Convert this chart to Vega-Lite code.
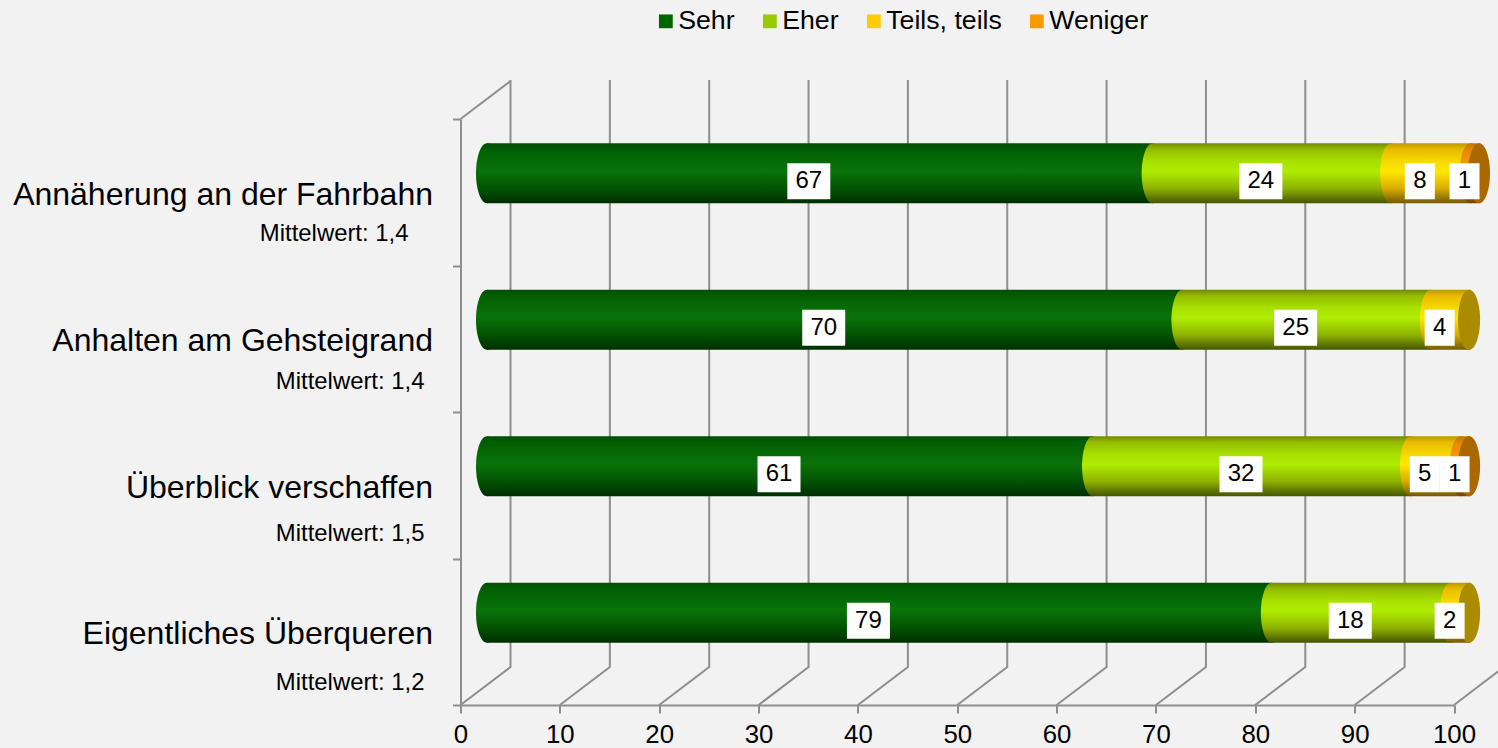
{
"$schema":"https://vega.github.io/schema/vega-lite/v6.json",
"autosize":{"type":"none"},
"padding":{"left":460.5,"top":119,"right":44,"bottom":43},
"width":993.5,"height":586,
"background":"#f2f2f2",
"config":{"view":{"stroke":null},"font":"Liberation Sans","text":{"font":"Liberation Sans"}},
"resolve":{"axis":{"x":"independent","y":"independent"}},
"datasets":{
"ticks":[{"v":0},{"v":10},{"v":20},{"v":30},{"v":40},{"v":50},{"v":60},{"v":70},{"v":80},{"v":90},{"v":100}],
"corner":[{"v":0}],
"means":[
{"item":"Annäherung an der Fahrbahn","mean":"Mittelwert: 1,4"},
{"item":"Anhalten am Gehsteigrand","mean":"Mittelwert: 1,4"},
{"item":"Überblick verschaffen","mean":"Mittelwert: 1,5"},
{"item":"Eigentliches Überqueren","mean":"Mittelwert: 1,2"}]
},
"data":{"values":[
{"item":"Annäherung an der Fahrbahn","series":"Sehr","ord":1,"value":67},
{"item":"Annäherung an der Fahrbahn","series":"Eher","ord":2,"value":24},
{"item":"Annäherung an der Fahrbahn","series":"Teils, teils","ord":3,"value":8},
{"item":"Annäherung an der Fahrbahn","series":"Weniger","ord":4,"value":1},
{"item":"Anhalten am Gehsteigrand","series":"Sehr","ord":1,"value":70},
{"item":"Anhalten am Gehsteigrand","series":"Eher","ord":2,"value":25},
{"item":"Anhalten am Gehsteigrand","series":"Teils, teils","ord":3,"value":4},
{"item":"Überblick verschaffen","series":"Sehr","ord":1,"value":61},
{"item":"Überblick verschaffen","series":"Eher","ord":2,"value":32},
{"item":"Überblick verschaffen","series":"Teils, teils","ord":3,"value":5},
{"item":"Überblick verschaffen","series":"Weniger","ord":4,"value":1},
{"item":"Eigentliches Überqueren","series":"Sehr","ord":1,"value":79},
{"item":"Eigentliches Überqueren","series":"Eher","ord":2,"value":18},
{"item":"Eigentliches Überqueren","series":"Teils, teils","ord":3,"value":2}
]},
"transform":[
{"stack":"value","groupby":["item"],"sort":[{"field":"ord","order":"ascending"}],"as":["x0","x1"]},
{"joinaggregate":[{"op":"max","field":"x1","as":"end"}],"groupby":["item"]},
{"calculate":"(datum.x0+datum.x1)/2","as":"mid"}
],
"layer":[
{"data":{"name":"ticks"},"mark":{"type":"point","shape":"M0,0 L1,-0.76 L1,-12.5","size":10000,"fill":null,"filled":false,"stroke":"#8e8e8e","strokeWidth":2,"opacity":1,"yOffset":293},
 "encoding":{"x":{"field":"v","type":"quantitative","scale":{"domain":[0,100],"nice":false,"zero":false},"title":null,
  "axis":{"values":[0,10,20,30,40,50,60,70,80,90,100],"grid":false,"domainColor":"#8e8e8e","domainWidth":2,"tickColor":"#8e8e8e","tickWidth":2,"tickSize":8,"labelFontSize":25.8,"labelColor":"#000000","labelPadding":9,"labelFont":"Liberation Sans","labelOverlap":false,"labelFlush":false}}}},
{"data":{"name":"corner"},"mark":{"type":"point","shape":"M0,0 L1,-0.76","size":10000,"fill":null,"filled":false,"stroke":"#8e8e8e","strokeWidth":2,"opacity":1,"yOffset":-293},
 "encoding":{"x":{"field":"v","type":"quantitative","axis":null}}},

{"transform":[{"filter":"datum.series=='Sehr'"}],
 "mark":{"type":"bar","height":60,"xOffset":26.5,"x2Offset":26.5,"yOffset":-19,"fill":{"gradient":"linear","x1":0,"y1":0,"x2":0,"y2":1,"stops":[{"offset":0,"color":"#004f00"},{"offset":0.12,"color":"#016001"},{"offset":0.45,"color":"#0a730a"},{"offset":0.75,"color":"#025302"},{"offset":1,"color":"#002e00"}]}},
 "encoding":{"x":{"field":"x0","type":"quantitative","axis":null},"x2":{"field":"x1"},
  "y":{"field":"item","type":"nominal","sort":["Annäherung an der Fahrbahn","Anhalten am Gehsteigrand","Überblick verschaffen","Eigentliches Überqueren"],"scale":{"domain":["Annäherung an der Fahrbahn","Anhalten am Gehsteigrand","Überblick verschaffen","Eigentliches Überqueren"],"paddingInner":0,"paddingOuter":0},"title":null,
  "axis":{"tickBand":"extent","domainColor":"#8e8e8e","domainWidth":2,"tickColor":"#8e8e8e","tickWidth":2,"tickSize":8,"labelFontSize":32,"labelColor":"#000000","labelPadding":20,"labelOffset":2,"labelLimit":600,"labelFont":"Liberation Sans","grid":false}}}},
{"transform":[{"filter":"datum.series=='Sehr'"}],
 "mark":{"type":"point","filled":true,"opacity":1,"size":3600,"strokeWidth":0,"xOffset":26.5,"yOffset":-19,"shape":"M0,-1 C.2026,-1 .367,-.5523 .367,0 C.367,.5523 .2026,1 0,1 C-.2026,1 -.367,.5523 -.367,0 C-.367,-.5523 -.2026,-1 0,-1 Z","fill":{"gradient":"linear","x1":0,"y1":0,"x2":0,"y2":1,"stops":[{"offset":0,"color":"#004f00"},{"offset":0.12,"color":"#016001"},{"offset":0.45,"color":"#0a730a"},{"offset":0.75,"color":"#025302"},{"offset":1,"color":"#002e00"}]}},
 "encoding":{"x":{"field":"x0","type":"quantitative","axis":null},"y":{"field":"item","type":"nominal","axis":null}}},

{"transform":[{"filter":"datum.series=='Eher'"}],
 "mark":{"type":"bar","height":60,"xOffset":26.5,"x2Offset":26.5,"yOffset":-19,"fill":{"gradient":"linear","x1":0,"y1":0,"x2":0,"y2":1,"stops":[{"offset":0,"color":"#728a00"},{"offset":0.1,"color":"#94bb00"},{"offset":0.3,"color":"#a8e000"},{"offset":0.47,"color":"#afec04"},{"offset":0.75,"color":"#8fb300"},{"offset":1,"color":"#465500"}]}},
 "encoding":{"x":{"field":"x0","type":"quantitative","axis":null},"x2":{"field":"x1"},"y":{"field":"item","type":"nominal","axis":null}}},
{"transform":[{"filter":"datum.series=='Eher'"}],
 "mark":{"type":"point","filled":true,"opacity":1,"size":3600,"strokeWidth":0,"xOffset":26.5,"yOffset":-19,"shape":"M0,-1 C.2026,-1 .367,-.5523 .367,0 C.367,.5523 .2026,1 0,1 C-.2026,1 -.367,.5523 -.367,0 C-.367,-.5523 -.2026,-1 0,-1 Z","fill":{"gradient":"linear","x1":0,"y1":0,"x2":0,"y2":1,"stops":[{"offset":0,"color":"#728a00"},{"offset":0.1,"color":"#94bb00"},{"offset":0.3,"color":"#a8e000"},{"offset":0.47,"color":"#afec04"},{"offset":0.75,"color":"#8fb300"},{"offset":1,"color":"#465500"}]}},
 "encoding":{"x":{"field":"x0","type":"quantitative","axis":null},"y":{"field":"item","type":"nominal","axis":null}}},

{"transform":[{"filter":"datum.series=='Teils, teils'"}],
 "mark":{"type":"bar","height":60,"xOffset":26.5,"x2Offset":26.5,"yOffset":-19,"fill":{"gradient":"linear","x1":0,"y1":0,"x2":0,"y2":1,"stops":[{"offset":0,"color":"#bd9800"},{"offset":0.1,"color":"#e6bb00"},{"offset":0.3,"color":"#f7d800"},{"offset":0.47,"color":"#ffe800"},{"offset":0.75,"color":"#d9ad00"},{"offset":1,"color":"#735a00"}]}},
 "encoding":{"x":{"field":"x0","type":"quantitative","axis":null},"x2":{"field":"x1"},"y":{"field":"item","type":"nominal","axis":null}}},
{"transform":[{"filter":"datum.series=='Teils, teils'"}],
 "mark":{"type":"point","filled":true,"opacity":1,"size":3600,"strokeWidth":0,"xOffset":26.5,"yOffset":-19,"shape":"M0,-1 C.2026,-1 .367,-.5523 .367,0 C.367,.5523 .2026,1 0,1 C-.2026,1 -.367,.5523 -.367,0 C-.367,-.5523 -.2026,-1 0,-1 Z","fill":{"gradient":"linear","x1":0,"y1":0,"x2":0,"y2":1,"stops":[{"offset":0,"color":"#bd9800"},{"offset":0.1,"color":"#e6bb00"},{"offset":0.3,"color":"#f7d800"},{"offset":0.47,"color":"#ffe800"},{"offset":0.75,"color":"#d9ad00"},{"offset":1,"color":"#735a00"}]}},
 "encoding":{"x":{"field":"x0","type":"quantitative","axis":null},"y":{"field":"item","type":"nominal","axis":null}}},

{"transform":[{"filter":"datum.series=='Weniger'"}],
 "mark":{"type":"bar","height":60,"xOffset":26.5,"x2Offset":26.5,"yOffset":-19,"fill":{"gradient":"linear","x1":0,"y1":0,"x2":0,"y2":1,"stops":[{"offset":0,"color":"#c27400"},{"offset":0.12,"color":"#e68a00"},{"offset":0.45,"color":"#ff9f00"},{"offset":0.75,"color":"#cc7a00"},{"offset":1,"color":"#734500"}]}},
 "encoding":{"x":{"field":"x0","type":"quantitative","axis":null},"x2":{"field":"x1"},"y":{"field":"item","type":"nominal","axis":null}}},
{"transform":[{"filter":"datum.series=='Weniger'"}],
 "mark":{"type":"point","filled":true,"opacity":1,"size":3600,"strokeWidth":0,"xOffset":26.5,"yOffset":-19,"shape":"M0,-1 C.2026,-1 .367,-.5523 .367,0 C.367,.5523 .2026,1 0,1 C-.2026,1 -.367,.5523 -.367,0 C-.367,-.5523 -.2026,-1 0,-1 Z","fill":{"gradient":"linear","x1":0,"y1":0,"x2":0,"y2":1,"stops":[{"offset":0,"color":"#c27400"},{"offset":0.12,"color":"#e68a00"},{"offset":0.45,"color":"#ff9f00"},{"offset":0.75,"color":"#cc7a00"},{"offset":1,"color":"#734500"}]}},
 "encoding":{"x":{"field":"x0","type":"quantitative","axis":null},"y":{"field":"item","type":"nominal","axis":null}}},

{"transform":[{"filter":"datum.x1==datum.end && datum.series=='Teils, teils'"}],
 "mark":{"type":"point","filled":true,"opacity":1,"size":3600,"strokeWidth":0,"xOffset":25,"yOffset":-19,"color":"#ab8b00","shape":"M0,-1 C.2026,-1 .367,-.5523 .367,0 C.367,.5523 .2026,1 0,1 C-.2026,1 -.367,.5523 -.367,0 C-.367,-.5523 -.2026,-1 0,-1 Z"},
 "encoding":{"x":{"field":"x1","type":"quantitative","axis":null},"y":{"field":"item","type":"nominal","axis":null}}},
{"transform":[{"filter":"datum.x1==datum.end && datum.series=='Weniger'"}],
 "mark":{"type":"point","filled":true,"opacity":1,"size":3600,"strokeWidth":0,"xOffset":25,"yOffset":-19,"color":"#ab6700","shape":"M0,-1 C.2026,-1 .367,-.5523 .367,0 C.367,.5523 .2026,1 0,1 C-.2026,1 -.367,.5523 -.367,0 C-.367,-.5523 -.2026,-1 0,-1 Z"},
 "encoding":{"x":{"field":"x1","type":"quantitative","axis":null},"y":{"field":"item","type":"nominal","axis":null}}},

{"transform":[{"filter":"datum.value>=10"}],
 "mark":{"type":"point","filled":true,"opacity":1,"size":1849,"strokeWidth":0,"color":"#ffffff","xOffset":15.5,"yOffset":-11,"shape":"M-1,-.837 L1,-.837 L1,.837 L-1,.837 Z"},
 "encoding":{"x":{"field":"mid","type":"quantitative","axis":null},"y":{"field":"item","type":"nominal","axis":null}}},
{"transform":[{"filter":"datum.value<10"}],
 "mark":{"type":"point","filled":true,"opacity":1,"size":900,"strokeWidth":0,"color":"#ffffff","xOffset":15.5,"yOffset":-11,"shape":"M-1,-1.2 L1,-1.2 L1,1.2 L-1,1.2 Z"},
 "encoding":{"x":{"field":"mid","type":"quantitative","axis":null},"y":{"field":"item","type":"nominal","axis":null}}},
{"mark":{"type":"text","fontSize":24,"color":"#000000","baseline":"middle","align":"center","dx":15.5,"dy":-11},
 "encoding":{"x":{"field":"mid","type":"quantitative","axis":null},"y":{"field":"item","type":"nominal","axis":null},"text":{"field":"value","type":"quantitative"}}},

{"data":{"name":"means"},"transform":[{"filter":"datum.item=='Annäherung an der Fahrbahn'"}],
 "mark":{"type":"text","fontSize":23.9,"color":"#000000","align":"right","baseline":"middle","dx":-52,"dy":42},
 "encoding":{"x":{"datum":0,"axis":null},"y":{"field":"item","type":"nominal","axis":null},"text":{"field":"mean"}}},
{"data":{"name":"means"},"transform":[{"filter":"datum.item=='Anhalten am Gehsteigrand'"}],
 "mark":{"type":"text","fontSize":23.9,"color":"#000000","align":"right","baseline":"middle","dx":-36,"dy":43},
 "encoding":{"x":{"datum":0,"axis":null},"y":{"field":"item","type":"nominal","axis":null},"text":{"field":"mean"}}},
{"data":{"name":"means"},"transform":[{"filter":"datum.item=='Überblick verschaffen'"}],
 "mark":{"type":"text","fontSize":23.9,"color":"#000000","align":"right","baseline":"middle","dx":-36,"dy":49},
 "encoding":{"x":{"datum":0,"axis":null},"y":{"field":"item","type":"nominal","axis":null},"text":{"field":"mean"}}},
{"data":{"name":"means"},"transform":[{"filter":"datum.item=='Eigentliches Überqueren'"}],
 "mark":{"type":"text","fontSize":23.9,"color":"#000000","align":"right","baseline":"middle","dx":-36,"dy":51},
 "encoding":{"x":{"datum":0,"axis":null},"y":{"field":"item","type":"nominal","axis":null},"text":{"field":"mean"}}},

{"mark":{"type":"point","filled":true,"shape":"square","opacity":0,"size":1},
 "encoding":{"x":{"field":"x1","type":"quantitative","axis":null},"y":{"field":"item","type":"nominal","axis":null},
  "color":{"field":"series","type":"nominal","scale":{"domain":["Sehr","Eher","Teils, teils","Weniger"],"range":["#006600","#99cc00","#ffcc00","#ff9900"]},
   "legend":{"title":null,"orient":"none","legendX":192,"legendY":-111,"direction":"horizontal","columns":4,"symbolType":"square","symbolSize":190,"symbolOpacity":1,"symbolStrokeWidth":0,"labelFontSize":26.7,"labelColor":"#000000","labelFont":"Liberation Sans","labelLimit":400,"labelOffset":-1,"columnPadding":21,"gridAlign":"none","labelExpr":"datum.label=='Eher'?'Eher\u00a0\u00a0\u00a0\u00a0\u00a0\u00a0':datum.label"}}}}
]
}
